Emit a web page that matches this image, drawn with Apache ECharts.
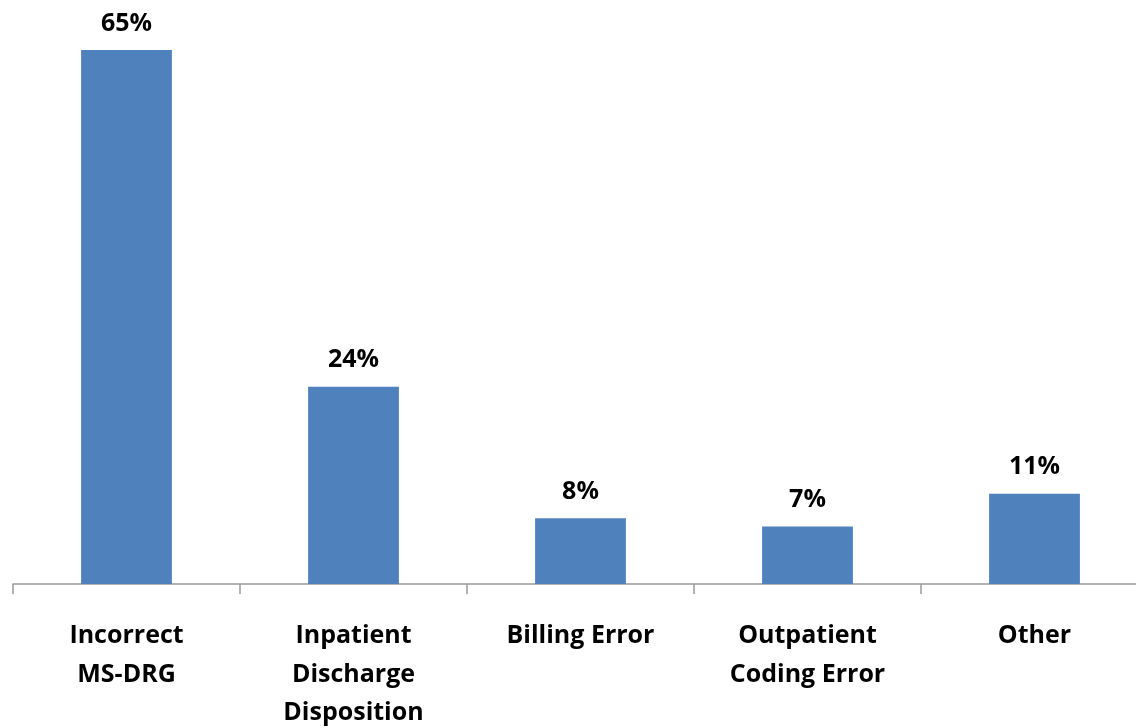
<!DOCTYPE html>
<html>
<head>
<meta charset="utf-8">
<script src="https://cdn.jsdelivr.net/npm/echarts@6/dist/echarts.min.js"></script>
<style>
  html, body { margin: 0; padding: 0; background: #ffffff; }
  #chart { width: 1136px; height: 728px; }
</style>
</head>
<body>
<div id="chart"></div>
<script>
// Error categories and their share of findings (percent)
const categories = [
  'Incorrect\nMS-DRG',
  'Inpatient\nDischarge\nDisposition',
  'Billing Error',
  'Outpatient\nCoding Error',
  'Other'
];
const shares = [65, 24, 8, 7, 11];

const chart = echarts.init(document.getElementById('chart'));
chart.setOption({
  animation: false,
  grid: {
    left: 13, top: 9, width: 1135, height: 575,
    outerBoundsMode: 'none',
    containLabel: false
  },
  xAxis: {
    type: 'category',
    data: categories,
    boundaryGap: true,
    axisLine: { lineStyle: { color: '#9a9a9a', width: 1.5 } },
    axisTick: { show: true, length: 10, lineStyle: { color: '#9a9a9a', width: 1.5 } },
    axisLabel: {
      interval: 0,
      margin: 33,
      fontFamily: 'Open Sans',
      fontWeight: 'bold',
      fontSize: 25,
      lineHeight: 38.5,
      color: '#000000'
    }
  },
  yAxis: {
    type: 'value',
    min: 0,
    max: 70,
    show: false,
    splitLine: { show: false }
  },
  series: [{
    type: 'bar',
    data: shares,
    barWidth: '40%',
    itemStyle: { color: '#4F81BD' },
    label: {
      show: true,
      position: 'top',
      distance: 14,
      formatter: '{c}%',
      fontFamily: 'Open Sans',
      fontWeight: 'bold',
      fontSize: 25,
      color: '#000000'
    }
  }]
});
</script>
</body>
</html>
